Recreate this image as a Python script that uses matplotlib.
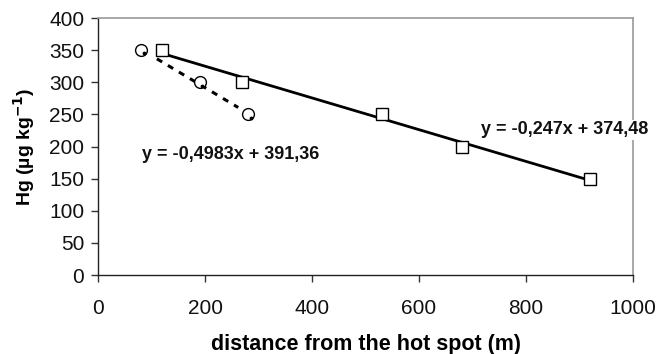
import numpy as np
from matplotlib import pyplot as plt

plt.rcParams['font.family'] = ['Liberation Sans', 'DejaVu Sans']

# circles series
xc = [80, 190, 280]
yc = [350, 300, 250]
# squares series
xs = [120, 270, 530, 680, 920]
ys = [350, 300, 250, 200, 150]

# trendlines as printed on the chart
a_c, b_c = -0.4983, 391.36
a_s, b_s = -0.247, 374.48

fig = plt.figure(figsize=(6.58, 3.54), dpi=100)
ax = fig.add_axes([0.149, 0.223, 0.813, 0.726])

xl = np.array([xs[0], xs[-1]])
ax.plot(xl, a_s*xl + b_s, color='black', lw=2, zorder=2)
xd = np.array([110, 262])
ax.plot(xd, a_c*xd + b_c, color='black', lw=2.2, ls=(0, (2, 2.2)), zorder=2)

ax.plot(xs, ys, ls='none', marker='s', ms=9, mfc='white', mec='black', mew=1, zorder=3)
ax.plot(xc, yc, ls='none', marker='o', ms=8.5, mfc='white', mec='black', mew=1, zorder=3)
ax.plot(np.array(xc)+5, np.array(yc)-5, ls='none', marker='.', ms=3.5, color='black', zorder=4)

ax.text(247, 187, 'y = -0,4983x + 391,36', ha='center', va='center',
        fontsize=13, fontweight='bold', color='#111111', zorder=5)
ax.text(873, 226, 'y = -0,247x + 374,48', ha='center', va='center',
        fontsize=13, fontweight='bold', color='#111111', zorder=5, clip_on=False,
        bbox=dict(facecolor='white', edgecolor='none', pad=1))

ax.set_xlim(0, 1000)
ax.set_ylim(0, 400)
ax.set_xticks(range(0, 1001, 200))
ax.set_yticks(range(0, 401, 50))
ax.tick_params(labelsize=15, length=5, width=1, color='#333333', labelcolor='#111111')
ax.tick_params(axis='x', pad=12)
ax.tick_params(axis='y', pad=5)
for s in ['top', 'right']:
    ax.spines[s].set_color('#999999')
    ax.spines[s].set_linewidth(1.2)
for s in ['left', 'bottom']:
    ax.spines[s].set_color('#222222')
    ax.spines[s].set_linewidth(1)

ax.set_xlabel('distance from the hot spot (m)', fontsize=15.5, fontweight='bold', labelpad=12)
ax.set_ylabel(r'Hg (µg kg$^{\mathbf{-1}}$)', fontsize=14, fontweight='bold', labelpad=9)

fig.savefig('out.png', dpi=100)
